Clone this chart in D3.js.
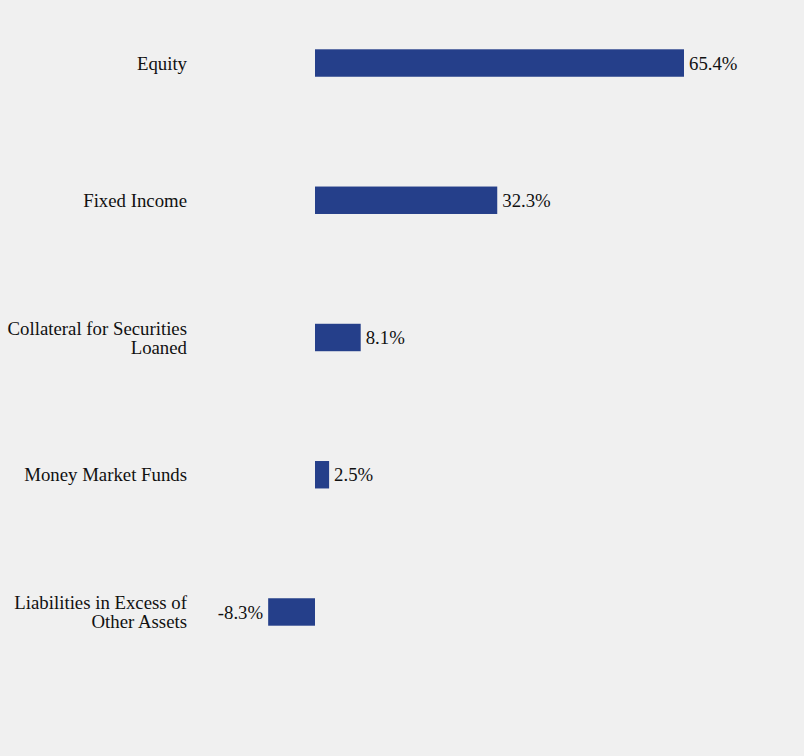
<!DOCTYPE html>
<html><head><meta charset="utf-8">
<script src="https://cdn.jsdelivr.net/npm/d3@7"></script>
<style>
html,body{margin:0;padding:0;background:#f0f0f0;}
svg{display:block;}
text{font-family:"Liberation Serif","Times New Roman",serif;font-size:18.8px;fill:#111;}
</style></head><body>
<svg id="c" width="804" height="756"></svg>
<script>
const categories = ["Equity","Fixed Income","Collateral for Securities Loaned","Money Market Funds","Liabilities in Excess of Other Assets"];
const categoryLines = [["Equity"],["Fixed Income"],["Collateral for Securities","Loaned"],["Money Market Funds"],["Liabilities in Excess of","Other Assets"]];
const values = [65.4, 32.3, 8.1, 2.5, -8.3];
const valueLabels = ["65.4%","32.3%","8.1%","2.5%","-8.3%"];

const svg = d3.select("#c");
const x = d3.scaleLinear().domain([0, 65.4]).range([315, 684]);
const y = d3.scaleBand().domain(categories).range([-5.6, 680.6]).paddingInner(0.8).paddingOuter(0.4);

svg.selectAll("rect.bar").data(values).enter().append("rect")
  .attr("class","bar")
  .attr("x", d => Math.min(x(0), x(d)))
  .attr("width", d => Math.abs(x(d) - x(0)))
  .attr("y", (d,i) => y(categories[i]))
  .attr("height", y.bandwidth())
  .attr("fill", "#253f8a");

svg.selectAll("text.val").data(values).enter().append("text")
  .attr("class","val")
  .attr("x", d => d >= 0 ? x(d) + 5 : x(d) - 5)
  .attr("y", (d,i) => y(categories[i]) + y.bandwidth()/2)
  .attr("dy", "0.35em")
  .attr("text-anchor", d => d >= 0 ? "start" : "end")
  .text((d,i) => valueLabels[i]);

const lineGap = 19;
categoryLines.forEach((lines, i) => {
  const cy = y(categories[i]) + y.bandwidth()/2;
  const n = lines.length;
  lines.forEach((ln, j) => {
    svg.append("text").attr("class","cat")
      .attr("text-anchor","end")
      .attr("x", 187)
      .attr("y", cy + (j - (n-1)/2) * lineGap)
      .attr("dy","0.35em")
      .text(ln);
  });
});
</script>
</body></html>
